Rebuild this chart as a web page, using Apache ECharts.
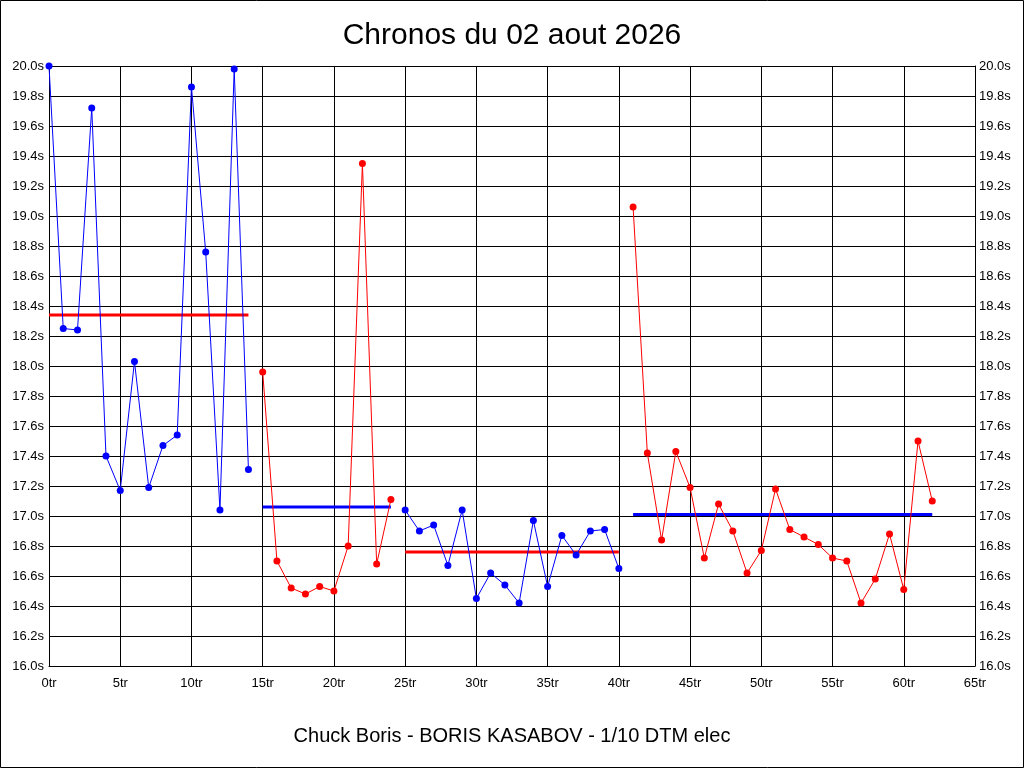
<!DOCTYPE html>
<html>
<head>
<meta charset="utf-8">
<script src="https://cdn.jsdelivr.net/npm/echarts@6/dist/echarts.min.js"></script>
<style>
html,body{margin:0;padding:0;background:#fff;}
#c{width:1024px;height:768px;}
</style>
</head>
<body>
<div id="c"></div>
<script>
// Tick labels
const xTicks = [0,5,10,15,20,25,30,35,40,45,50,55,60,65];
const yTicks = [16.0,16.2,16.4,16.6,16.8,17.0,17.2,17.4,17.6,17.8,18.0,18.2,18.4,18.6,18.8,19.0,19.2,19.4,19.6,19.8,20.0];

// Segment 1 (laps 0-14, blue)
const seg1Start = 0;
const seg1Values = [20.00,18.25,18.24,19.72,17.40,17.17,18.03,17.19,17.47,17.54,19.86,18.76,17.04,19.98,17.31];
const seg1Avg = 18.34;

// Segment 2 (laps 15-24, red)
const seg2Start = 15;
const seg2Values = [17.96,16.70,16.52,16.48,16.53,16.50,16.80,19.35,16.68,17.11];
const seg2Avg = 17.06;

// Segment 3 (laps 25-40, blue)
const seg3Start = 25;
const seg3Values = [17.04,16.90,16.94,16.67,17.04,16.45,16.62,16.54,16.42,16.97,16.53,16.87,16.74,16.90,16.91,16.65];
const seg3Avg = 16.76;

// Segment 4 (laps 41-62, red)
const seg4Start = 41;
const seg4Values = [19.06,17.42,16.84,17.43,17.19,16.72,17.08,16.90,16.62,16.77,17.18,16.91,16.86,16.81,16.72,16.70,16.42,16.58,16.88,16.51,17.50,17.10];
const seg4Avg = 17.01;

const BLUE = '#0000ff', RED = '#ff0000';
const FONT = '"Liberation Sans", Arial, sans-serif';

function pts(start, vals){ return vals.map((v,i)=>[start+i, v]); }
function avgLine(start, vals, avg){ return [[start, avg],[start+vals.length-1, avg]]; }

const segs = [
  {start:seg1Start, vals:seg1Values, avg:seg1Avg, col:BLUE, avgCol:RED},
  {start:seg2Start, vals:seg2Values, avg:seg2Avg, col:RED, avgCol:BLUE},
  {start:seg3Start, vals:seg3Values, avg:seg3Avg, col:BLUE, avgCol:RED},
  {start:seg4Start, vals:seg4Values, avg:seg4Avg, col:RED, avgCol:BLUE}
];

const series = [];
segs.forEach(s=>{
  series.push({
    type:'line', data: avgLine(s.start, s.vals, s.avg), symbol:'none',
    lineStyle:{color:s.avgCol, width:3}, z:2, silent:true, animation:false
  });
});
segs.forEach(s=>{
  series.push({
    type:'line', data: pts(s.start, s.vals), symbol:'circle', symbolSize:7,
    itemStyle:{color:s.col}, lineStyle:{color:s.col, width:1}, z:3, animation:false
  });
});

const yLabelFmt = v => v.toFixed(1) + 's';
const yAxisBase = {
  type:'value', min:16, max:20, interval:0.2,
  axisLine:{show:true, lineStyle:{color:'#000', width:1}},
  axisTick:{show:false},
  splitLine:{show:true, lineStyle:{color:'#000', width:1}},
  axisLabel:{formatter:yLabelFmt, color:'#000', fontSize:13, fontFamily:FONT, margin:5}
};

const chart = echarts.init(document.getElementById('c'));
chart.setOption({
  backgroundColor:'#fff',
  animation:false,
  title:[
    {text:'Chronos du 02 aout 2026', left:'center', top:16,
     textStyle:{fontSize:30, fontWeight:'normal', color:'#000', fontFamily:FONT}},
    {text:'Chuck Boris - BORIS KASABOV - 1/10 DTM elec', left:'center', top:721,
     textStyle:{fontSize:20, fontWeight:'normal', color:'#000', fontFamily:FONT}}
  ],
  grid:{left:49, right:49, top:66, bottom:102, containLabel:false},
  xAxis:{
    type:'value', min:xTicks[0], max:xTicks[xTicks.length-1], interval:5,
    axisLine:{show:true, onZero:false, lineStyle:{color:'#000', width:1}},
    axisTick:{show:false},
    splitLine:{show:true, lineStyle:{color:'#000', width:1}},
    axisLabel:{formatter:'{value}tr', color:'#000', fontSize:13, fontFamily:FONT, margin:11}
  },
  yAxis:[
    Object.assign({}, yAxisBase, {position:'left'}),
    Object.assign({}, yAxisBase, {position:'right', splitLine:{show:false}, axisLabel:Object.assign({}, yAxisBase.axisLabel, {margin:4})})
  ],
  graphic:[{
    type:'rect', shape:{x:0.5, y:0.5, width:1023, height:767},
    style:{fill:null, stroke:'#000', lineWidth:1}, silent:true, z:100
  }],
  series: series
});
</script>
</body>
</html>
